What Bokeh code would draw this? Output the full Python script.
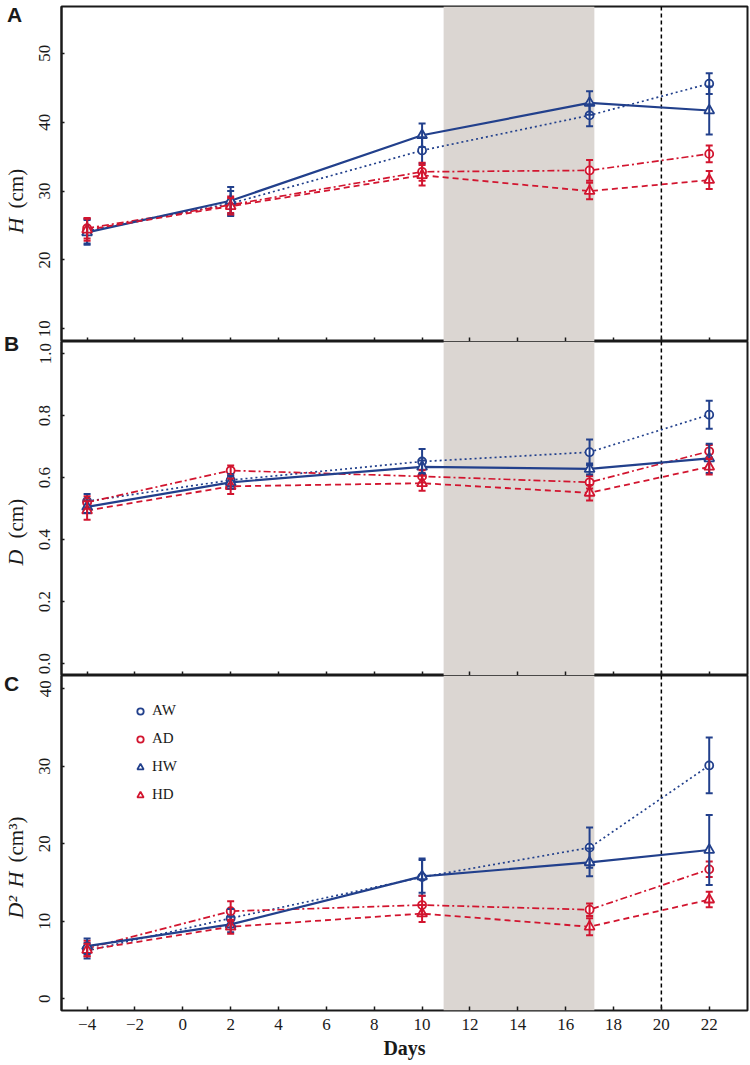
import math
from bokeh.plotting import figure
from bokeh.models import (BoxAnnotation, Span, Whisker, TeeHead, ColumnDataSource, Label,
                          FixedTicker, Legend, LegendItem, CustomJSTickFormatter,
                          PrintfTickFormatter, Range1d)
from bokeh.layouts import column, row
from bokeh.embed import file_html
from bokeh.resources import INLINE

# ---------------- data ----------------
days = [-4, 2, 10, 17, 22]
groups = ["AW", "AD", "HW", "HD"]

H_AW = [24.2, 28.2, 35.9, 41.0, 45.6]
H_AW_err = [1.8, 1.8, 1.9, 1.6, 1.5]
H_AD = [24.6, 28.0, 32.8, 33.0, 35.4]
H_AD_err = [1.5, 1.2, 1.3, 1.5, 1.2]
H_HW = [24.0, 28.6, 38.1, 42.8, 41.7]
H_HW_err = [1.8, 2.0, 1.7, 1.7, 3.5]
H_HD = [24.4, 27.8, 32.3, 30.0, 31.6]
H_HD_err = [1.6, 1.2, 1.5, 1.2, 1.3]

D_AW = [0.524, 0.592, 0.652, 0.682, 0.803]
D_AW_err = [0.023, 0.020, 0.040, 0.041, 0.045]
D_AD = [0.520, 0.623, 0.604, 0.585, 0.685]
D_AD_err = [0.020, 0.016, 0.020, 0.020, 0.020]
D_HW = [0.506, 0.585, 0.635, 0.628, 0.662]
D_HW_err = [0.020, 0.020, 0.020, 0.018, 0.047]
D_HD = [0.494, 0.572, 0.582, 0.551, 0.635]
D_HD_err = [0.030, 0.025, 0.024, 0.025, 0.025]

V_AW = [6.2, 10.4, 15.7, 19.5, 30.1]
V_AW_err = [1.0, 1.2, 2.4, 2.6, 3.6]
V_AD = [6.5, 11.3, 12.1, 11.5, 16.7]
V_AD_err = [1.0, 1.3, 1.2, 0.8, 1.0]
V_HW = [6.8, 9.6, 15.8, 17.6, 19.2]
V_HW_err = [1.0, 1.0, 2.1, 1.8, 4.5]
V_HD = [6.3, 9.3, 11.0, 9.3, 12.8]
V_HD_err = [0.8, 0.9, 1.1, 1.1, 1.0]

x_ticks = [-4, -2, 0, 2, 4, 6, 8, 10, 12, 14, 16, 18, 20, 22]
H_ticks = [10, 20, 30, 40, 50]
D_ticks = [0.0, 0.2, 0.4, 0.6, 0.8, 1.0]
V_ticks = [0, 10, 20, 30, 40]

band_start, band_end = 10.9, 17.2
vline_day = 20

# ---------------- style ----------------
BLUE = "#22408c"
RED = "#d2152f"
INK = "#1a1a1a"
SERIF = "Liberation Serif"
style = {
    "AW": dict(color=BLUE, marker="circle", dash="2 3", lw=1.7, size=8),
    "AD": dict(color=RED, marker="circle", dash="7 3 2 3", lw=1.7, size=8),
    "HW": dict(color=BLUE, marker="triangle", dash="solid", lw=2.2, size=10),
    "HD": dict(color=RED, marker="triangle", dash="6 4", lw=1.8, size=10),
}

TOTAL_H = 1064
LABEL_W = 30
MAIN_W = 720
LEFT = 31
x_range = Range1d(-5.07, 23.6)


def make_fig(height, yr, yticks, top, bottom, show_x):
    p = figure(width=MAIN_W, height=height, x_range=x_range, y_range=Range1d(*yr),
               output_backend="svg", toolbar_location=None,
               min_border_left=LEFT, min_border_right=3,
               min_border_top=top, min_border_bottom=bottom)
    p.grid.visible = False
    p.outline_line_color = INK
    p.outline_line_width = 2
    p.background_fill_color = "white"
    p.border_fill_color = "white"
    ya = p.yaxis[0]
    ya.ticker = FixedTicker(ticks=yticks)
    ya.major_tick_in = 3
    ya.major_tick_out = 0
    ya.minor_tick_line_color = None
    ya.axis_line_color = INK
    ya.axis_line_width = 2
    ya.major_tick_line_color = INK
    ya.major_tick_line_width = 1.5
    ya.major_label_orientation = "vertical"
    ya.major_label_text_font = SERIF
    ya.major_label_text_font_size = "17px"
    ya.major_label_text_color = INK
    ya.major_label_standoff = 11
    xa = p.xaxis[0]
    xa.ticker = FixedTicker(ticks=x_ticks)
    xa.major_tick_in = 4
    xa.major_tick_out = 0
    xa.minor_tick_line_color = None
    xa.axis_line_color = None
    xa.major_tick_line_color = INK
    xa.major_tick_line_width = 1.5
    if show_x:
        xa.major_label_text_font = SERIF
        xa.major_label_text_font_size = "17px"
        xa.major_label_text_color = INK
        xa.major_label_standoff = 8
        xa.formatter = CustomJSTickFormatter(
            code="return tick < 0 ? '\u2212' + Math.abs(tick) : String(tick);")
        xa.axis_label = "Days"
        xa.axis_label_text_font = SERIF
        xa.axis_label_text_font_style = "bold"
        xa.axis_label_text_font_size = "20px"
        xa.axis_label_text_color = INK
        xa.axis_label_standoff = 4
    else:
        xa.major_label_text_font_size = "1px"
        xa.major_label_text_color = None
        xa.major_label_standoff = 0
    p.add_layout(BoxAnnotation(left=band_start, right=band_end, fill_color="#dbd6d2",
                               fill_alpha=1.0, line_color=None, level="underlay"))
    p.add_layout(Span(location=vline_day, dimension="height", line_color="black",
                      line_width=1.5, line_dash="4 3", level="underlay"))
    return p


def add_series(p, data):
    scatters = {}
    for g in groups:
        vals, errs = data[g]
        st = style[g]
        src = ColumnDataSource(dict(
            x=days, y=vals,
            upper=[v + e for v, e in zip(vals, errs)],
            lower=[v - e for v, e in zip(vals, errs)]))
        p.line("x", "y", source=src, line_color=st["color"], line_width=st["lw"],
               line_dash=st["dash"])
        wk = Whisker(source=src, base="x", upper="upper", lower="lower",
                     line_color=st["color"], line_width=2, level="glyph",
                     upper_head=TeeHead(size=7, line_color=st["color"], line_width=2),
                     lower_head=TeeHead(size=7, line_color=st["color"], line_width=2))
        p.add_layout(wk)
    for g in groups:
        vals, errs = data[g]
        st = style[g]
        src = ColumnDataSource(dict(x=days, y=vals))
        r = p.scatter("x", "y", source=src, marker=st["marker"], size=st["size"],
                      line_color=st["color"], line_width=1.8, fill_color="white")
        scatters[g] = r
    return scatters


# Panel A
pA = make_fig(341, (8.16, 56.8), H_ticks, 6, 0, False)
add_series(pA, {"AW": (H_AW, H_AW_err), "AD": (H_AD, H_AD_err),
                "HW": (H_HW, H_HW_err), "HD": (H_HD, H_HD_err)})

# Panel B
pB = make_fig(334, (-0.038, 1.039), D_ticks, 0, 0, False)
pB.yaxis[0].formatter = PrintfTickFormatter(format="%.1f")
add_series(pB, {"AW": (D_AW, D_AW_err), "AD": (D_AD, D_AD_err),
                "HW": (D_HW, D_HW_err), "HD": (D_HD, D_HD_err)})

# Panel C
pC = make_fig(389, (-1.5, 41.7), V_ticks, 0, 54, True)
sc = add_series(pC, {"AW": (V_AW, V_AW_err), "AD": (V_AD, V_AD_err),
                     "HW": (V_HW, V_HW_err), "HD": (V_HD, V_HD_err)})
legend = Legend(items=[LegendItem(label=g, renderers=[sc[g]]) for g in groups],
                location=(71, 207), orientation="vertical",
                glyph_width=16, glyph_height=16, spacing=11, padding=0, margin=0,
                label_standoff=4, label_text_font=SERIF, label_text_font_size="15px",
                label_text_color=INK, border_line_color=None, background_fill_alpha=0)
pC.add_layout(legend)

# Left strip holding panel letters and y-axis titles (page-pixel coordinates)
pL = figure(width=LABEL_W, height=TOTAL_H, x_range=Range1d(0, LABEL_W),
            y_range=Range1d(0, TOTAL_H), output_backend="svg", toolbar_location=None,
            min_border=0)
pL.axis.visible = False
pL.grid.visible = False
pL.outline_line_color = None
pL.background_fill_color = "white"
pL.border_fill_color = "white"

R90 = math.pi / 2


def strip_text(x, y_top, text, size, style_, font=SERIF, angle=0.0, align="left"):
    pL.add_layout(Label(x=x, y=TOTAL_H - y_top, text=text, text_font=font,
                        text_font_size=size, text_font_style=style_, text_color=INK,
                        angle=angle, text_align=align, text_baseline="middle"))


strip_text(14, 14, "A", "21px", "bold", font="Liberation Sans", align="center")
strip_text(11, 343, "B", "21px", "bold", font="Liberation Sans", align="center")
strip_text(11, 683, "C", "21px", "bold", font="Liberation Sans", align="center")

strip_text(15, 233, "H", "22px", "italic", angle=R90)
strip_text(15, 208, "(cm)", "21px", "normal", angle=R90)
strip_text(15, 565, "D", "22px", "italic", angle=R90)
strip_text(15, 538, "(cm)", "21px", "normal", angle=R90)
strip_text(15, 918, "D\u00b2", "22px", "italic", angle=R90)
strip_text(15, 887, "H", "22px", "italic", angle=R90)
strip_text(15, 862, "(cm\u00b3)", "21px", "normal", angle=R90)

layout = row(pL, column(pA, pB, pC, spacing=0), spacing=0)
open("out.html", "w").write(file_html(layout, INLINE))
